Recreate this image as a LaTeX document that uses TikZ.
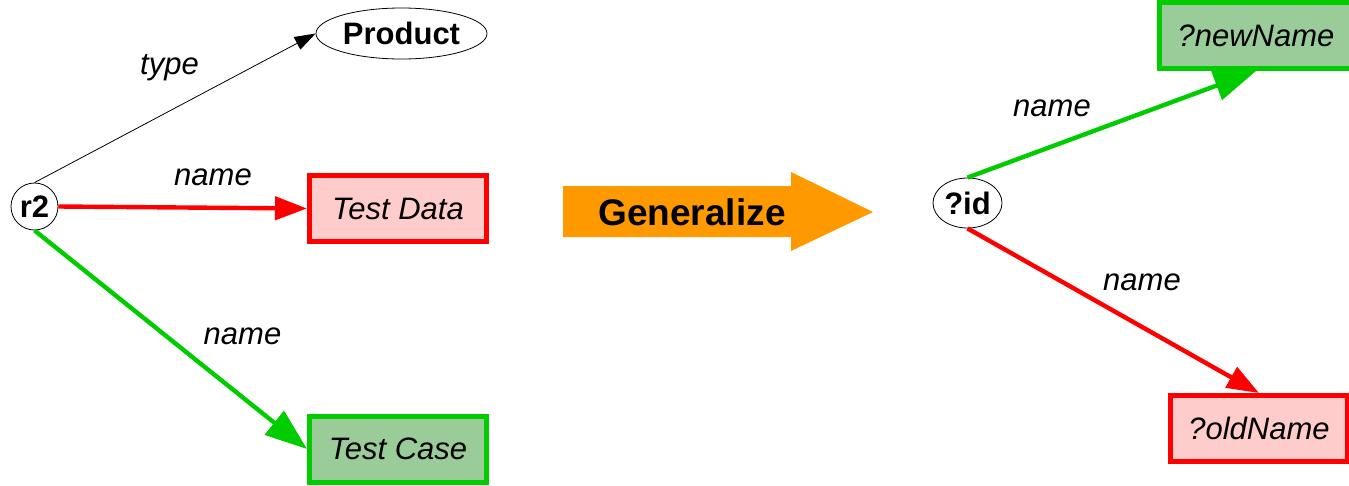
\documentclass[tikz,border=0pt]{standalone}
\usepackage{fontspec}
\setmainfont{Liberation Sans}
\usetikzlibrary{arrows.meta,shapes.geometric}
\definecolor{cred}{HTML}{FF0000}
\definecolor{cgreen}{HTML}{00CC00}
\definecolor{cpink}{HTML}{FFCCCC}
\definecolor{cgfill}{HTML}{99CC99}
\definecolor{corange}{HTML}{FF9900}
\tikzset{
  resnode/.style={circle,draw=black,line width=0.8pt,minimum size=47pt,inner sep=0pt,font=\fontsize{31}{37}\selectfont\bfseries},
  classnode/.style={ellipse,draw=black,line width=0.8pt,inner sep=0pt,font=\fontsize{31}{37}\selectfont\bfseries},
  redbox/.style={rectangle,draw=cred,fill=cpink,line width=5pt,minimum width=177pt,minimum height=66pt,inner sep=0pt,font=\fontsize{31}{37}\selectfont\itshape},
  greenbox/.style={rectangle,draw=cgreen,fill=cgfill,line width=5pt,minimum width=177pt,minimum height=66pt,inner sep=0pt,font=\fontsize{31}{37}\selectfont\itshape},
  elabel/.style={inner sep=0pt,font=\fontsize{31}{37}\selectfont\itshape},
  thinedge/.style={draw=black,line width=0.8pt,-{Triangle[length=21pt,width=14pt]}},
  rededge/.style={draw=cred,line width=4.4pt,-{Triangle[length=32pt,width=23pt]}},
  greenedge/.style={draw=cgreen,line width=4.4pt,-{Triangle[length=42pt,width=30pt]}}
}
\begin{document}
\begin{tikzpicture}[x=1pt,y=-1pt]
\useasboundingbox (0,0) rectangle (1349,485);
\clip (0,0) rectangle (1349,485);
% left graph
\node[resnode] (r2) at (34.5,206.5) {r2};
\node[classnode,minimum width=171pt,minimum height=51pt] (product) at (401.5,33.5) {Product};
\node[redbox] (testdata) at (398,208.5) {Test Data};
\node[greenbox] (testcase) at (398,449) {Test Case};
\draw[thinedge] (r2.north) -- (product.west);
\draw[rededge] (r2.east) -- (testdata.west);
\draw[greenedge] (r2.south) -- (testcase.west);
\node[elabel] (ltype) at (169.5,68) {type};
\node[elabel] (lname1) at (213,177) {name};
\node[elabel] (lname2) at (242.5,336) {name};
% generalize arrow
\fill[corange] (563,186) -- (791,186) -- (791,172) -- (873,212) -- (791,251) -- (791,237) -- (563,237) -- cycle;
\node[inner sep=0pt,font=\fontsize{37}{44}\selectfont\bfseries] (gen) at (692,212) {Generalize};
% right graph
\node[greenbox,minimum width=193pt] (newname) at (1256,35.5) {?newName};
\node[redbox] (oldname) at (1259,428.5) {?oldName};
\node[classnode,minimum width=69pt,minimum height=50pt] (id) at (967.5,203) {?id};
\draw[greenedge] (id.north) -- (newname.south);
\draw[rededge] (id.south) -- (oldname.north);
\node[elabel] (lname3) at (1052,108) {name};
\node[elabel] (lname4) at (1142,282) {name};
\end{tikzpicture}
\end{document}
